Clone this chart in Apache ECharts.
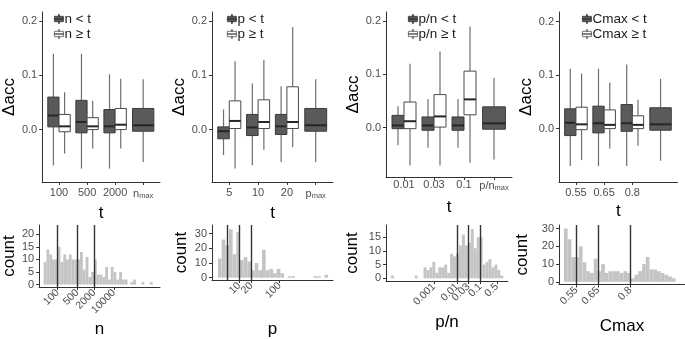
<!DOCTYPE html>
<html><head><meta charset="utf-8">
<script src="https://cdn.jsdelivr.net/npm/echarts@6/dist/echarts.min.js"></script>
<style>html,body{margin:0;padding:0;background:#fff}#c{width:685px;height:339px}</style>
</head><body><div id="c"></div>
<script>
// ---------- Box plot data: [lower whisker, Q1, median, Q3, upper whisker] ----------
const nTicks = ['100', '500', '2000', 'n_max'];
const nBelow = [[-0.066, 0.005, 0.026, 0.060, 0.140], [-0.072, -0.006, 0.014, 0.054, 0.140], [-0.072, -0.006, 0.006, 0.037, 0.102]];
const nAbove = [[-0.044, -0.004, 0.006, 0.028, 0.069], [-0.035, 0.000, 0.006, 0.022, 0.053], [-0.035, 0.000, 0.009, 0.039, 0.094]];

const pTicks = ['5', '10', '20', 'p_max'];
const pBelow = [[-0.047, -0.017, -0.003, 0.005, 0.037], [-0.066, -0.011, 0.004, 0.028, 0.085], [-0.060, -0.009, 0.006, 0.028, 0.080]];
const pAbove = [[-0.072, 0.002, 0.016, 0.053, 0.126], [-0.037, 0.002, 0.014, 0.055, 0.129], [-0.032, 0.002, 0.014, 0.079, 0.189]];

const pnTicks = ['0.01', '0.03', '0.1', 'p/n_max'];
const pnBelow = [[-0.033, -0.002, 0.004, 0.023, 0.040], [-0.038, -0.005, 0.004, 0.020, 0.053], [-0.038, -0.005, 0.004, 0.020, 0.053]];
const pnAbove = [[-0.071, -0.002, 0.012, 0.048, 0.120], [-0.071, 0.001, 0.021, 0.062, 0.143], [-0.066, 0.024, 0.053, 0.106, 0.190]];

const cTicks = ['0.55', '0.65', '0.8', 'Cmax_max'];
const cBelow = [[-0.070, -0.013, 0.011, 0.037, 0.112], [-0.070, -0.008, 0.010, 0.042, 0.112], [-0.070, -0.005, 0.010, 0.045, 0.120]];
const cAbove = [[-0.059, -0.002, 0.008, 0.040, 0.103], [-0.037, 0.000, 0.007, 0.035, 0.086], [-0.032, 0.000, 0.007, 0.024, 0.054]];

const maxBox = [-0.060, -0.003, 0.008, 0.039, 0.093];
const accTicks = [0, 0.1, 0.2];

// ---------- Histograms (log-scaled x: bins given in log10 units) ----------
const nThresholds = [100, 500, 2000];
const nLabelTicks = [100, 500, 2000, 10000];
const nCountTicks = [0, 5, 10, 15, 20];
const nBinLogStart = 1.504, nBinLogWidth = 0.0993;
const nCounts = [9, 14, 12, 10, 10, 15, 9, 12, 10, 12, 10, 10, 10, 13, 6, 11, 3, 5, 10, 4, 4, 3, 7, 2, 7, 5, 2, 5, 2, 2, 0, 1, 2, 0, 0, 1, 0, 0, 1];

const pThresholds = [5, 10, 20];
const pLabelTicks = [5, 10, 20, 100];
const pCountTicks = [0, 10, 20, 30];
const pBinLogStart = 0.474, pBinLogWidth = 0.0911;
const pCounts = [13, 26, 22, 33, 16, 31, 12, 14, 11, 5, 10, 5, 19, 5, 6, 3, 6, 3, 0, 1, 1, 0, 0, 0, 0, 0, 1, 1, 0, 2];

const pnThresholds = [0.01, 0.03, 0.1];
const pnLabelTicks = [0.001, 0.01, 0.03, 0.1, 0.5];
const pnCountTicks = [0, 5, 10, 15];
const pnBinLogStart = -4.833, pnBinLogWidth = 0.1266;
const pnCounts = [1, 0, 0, 0, 0, 0, 0, 0, 1, 0, 0, 4, 3, 4, 6, 2, 4, 4, 5, 2, 9, 8, 9, 12, 16, 12, 13, 18, 11, 15, 15, 5, 6, 7, 4, 5, 3, 1];

const cThresholds = [0.55, 0.65, 0.8];
const cLabelTicks = [0.55, 0.65, 0.8];
const cCountTicks = [0, 10, 20, 30];
const cBinStart = 0.492, cBinWidth = 0.01727;
const cCounts = [30, 24, 14, 14, 20, 11, 6, 5, 13, 6, 10, 5, 6, 6, 6, 5, 6, 5, 2, 4, 6, 10, 14, 7, 7, 6, 5, 4, 3, 2];

// ---------- Styles ----------
const FONT = 'Liberation Sans, Arial, sans-serif';
const TXT = '#4d4d4d', AX = '#333333';
const DARK = { fill: '#5a5a5a', stroke: '#3a3a3a' };
const LIGHT = { fill: '#ffffff', stroke: '#4a4a4a' };
const WHISK = '#6e6e6e', MED = '#262626';
const BAR = '#c4c4c4', VLINE = '#333333';
const BOX_ICON = 'path://M0,2H10V8H0Z M4.5,0H5.5V2H4.5Z M4.5,8H5.5V10H4.5Z M0,4.6H10V5.4H0Z';

const grids = [], xAxes = [], yAxes = [], series = [], legends = [];

function tickFmt(s) {
  const i = s.indexOf('_max');
  return i >= 0 ? '{b|' + s.slice(0, i) + '}{s|max}' : s;
}

function boxRender(kind, sty) {
  return function (params, api) {
    const x = api.value(0);
    const unit = api.size([1, 0])[0];
    const c = api.coord([x, 0])[0];
    let cx, hw;
    if (kind === 'left') { hw = 0.2 * unit; cx = c - hw; }
    else if (kind === 'right') { hw = 0.2 * unit; cx = c + hw; }
    else { hw = 0.38 * unit; cx = c; }
    const y = i => api.coord([x, api.value(i)])[1];
    const lo = y(1), q1 = y(2), md = y(3), q3 = y(4), hi = y(5);
    return {
      type: 'group',
      children: [
        { type: 'line', shape: { x1: cx, y1: hi, x2: cx, y2: q3 }, style: { stroke: WHISK, lineWidth: 1.2 } },
        { type: 'line', shape: { x1: cx, y1: q1, x2: cx, y2: lo }, style: { stroke: WHISK, lineWidth: 1.2 } },
        { type: 'rect', shape: { x: cx - hw, y: q3, width: 2 * hw, height: q1 - q3 }, style: { fill: sty.fill, stroke: sty.stroke, lineWidth: 1 } },
        { type: 'line', shape: { x1: cx - hw, y1: md, x2: cx + hw, y2: md }, style: { stroke: MED, lineWidth: 2 } }
      ]
    };
  };
}

function addBoxPanel(o) {
  const gi = grids.length;
  grids.push({ left: o.left, top: o.top, width: o.w, height: o.h });
  xAxes.push({
    type: 'value', gridIndex: gi, min: 0.4, max: 4.6,
    name: 't', nameLocation: 'middle', nameGap: o.xGap,
    nameTextStyle: { fontSize: 17, color: '#000', fontFamily: FONT },
    axisLine: { onZero: false, lineStyle: { color: AX, width: 1 } },
    axisTick: { customValues: [1, 2, 3, 4], length: 3, lineStyle: { color: AX } },
    axisLabel: {
      customValues: [1, 2, 3, 4], margin: o.labMargin, color: TXT, fontSize: 11, fontFamily: FONT,
      formatter: v => tickFmt(o.ticks[Math.round(v) - 1]),
      rich: { b: { fontSize: 11, color: TXT, fontFamily: FONT }, s: { fontSize: 7.5, color: TXT, fontFamily: FONT, padding: [5, 0, 0, 0] } }
    },
    splitLine: { show: false }
  });
  yAxes.push({
    type: 'value', gridIndex: gi, min: o.ymin, max: o.ymax,
    name: 'Δacc', nameLocation: 'middle', nameGap: o.yGap,
    nameTextStyle: { fontSize: 17, color: '#000', fontFamily: FONT },
    axisLine: { show: true, onZero: false, lineStyle: { color: AX, width: 1 } },
    axisTick: { show: true, customValues: accTicks, length: 3, lineStyle: { color: AX } },
    axisLabel: { customValues: accTicks, formatter: v => v.toFixed(1), margin: 5, color: TXT, fontSize: 11, fontFamily: FONT },
    splitLine: { show: false }
  });
  const enc = { x: 0, y: [1, 2, 3, 4, 5] };
  series.push({
    name: o.names[0], type: 'custom', xAxisIndex: gi, yAxisIndex: gi, encode: enc,
    itemStyle: { color: DARK.fill, borderColor: DARK.stroke, borderWidth: 1 },
    renderItem: boxRender('left', DARK), data: o.below.map((v, k) => [k + 1].concat(v))
  });
  series.push({
    name: o.names[1], type: 'custom', xAxisIndex: gi, yAxisIndex: gi, encode: enc,
    itemStyle: { color: LIGHT.fill, borderColor: LIGHT.stroke, borderWidth: 1 },
    renderItem: boxRender('right', LIGHT), data: o.above.map((v, k) => [k + 1].concat(v))
  });
  series.push({
    name: o.names[0] + ' max', type: 'custom', xAxisIndex: gi, yAxisIndex: gi, encode: enc,
    itemStyle: { color: DARK.fill },
    renderItem: boxRender('center', DARK), data: [[4].concat(maxBox)]
  });
  legends.push({
    orient: 'vertical', left: o.legLeft, top: 7, itemGap: 1, itemWidth: 9, itemHeight: 10,
    selectedMode: false,
    textStyle: { fontSize: 13.5, color: '#1a1a1a', fontFamily: FONT, padding: [0, 0, 0, -4] },
    data: [
      { name: o.names[0], icon: BOX_ICON, itemStyle: { color: DARK.fill, borderColor: DARK.stroke, borderWidth: 0.8 } },
      { name: o.names[1], icon: BOX_ICON, itemStyle: { color: LIGHT.fill, borderColor: '#555555', borderWidth: 0.8 } }
    ]
  });
}

function addHistPanel(o) {
  const gi = grids.length;
  const tx = v => (o.log ? Math.log10(v) : v);
  grids.push({ left: o.left, top: o.top, width: o.w, height: o.h });
  xAxes.push({
    type: 'value', gridIndex: gi, min: o.xmin, max: o.xmax,
    name: o.xName, nameLocation: 'middle', nameGap: o.xGap,
    nameTextStyle: { fontSize: 17, color: '#000', fontFamily: FONT },
    axisLine: { onZero: false, lineStyle: { color: AX, width: 1 } },
    axisTick: { customValues: o.labelTicks.map(tx), length: 3, lineStyle: { color: AX } },
    axisLabel: {
      customValues: o.labelTicks.map(tx), rotate: 45, margin: 4, color: TXT, fontSize: 10.5, fontFamily: FONT,
      formatter: v => String(+(o.log ? Math.pow(10, v) : v).toPrecision(4))
    },
    splitLine: { show: false }
  });
  yAxes.push({
    type: 'value', gridIndex: gi, min: o.ymin, max: o.ymax,
    name: 'count', nameLocation: 'middle', nameGap: o.yGap,
    nameTextStyle: { fontSize: 17, color: '#000', fontFamily: FONT },
    axisLine: { show: true, onZero: false, lineStyle: { color: AX, width: 1 } },
    axisTick: { show: true, customValues: o.countTicks, length: 3, lineStyle: { color: AX } },
    axisLabel: { customValues: o.countTicks, margin: 5, color: TXT, fontSize: 11, fontFamily: FONT },
    splitLine: { show: false }
  });
  const data = o.counts.map((c, k) => [o.binStart + k * o.binWidth, o.binStart + (k + 1) * o.binWidth, c]);
  series.push({
    name: o.xName + ' hist', type: 'custom', xAxisIndex: gi, yAxisIndex: gi,
    encode: { x: [0, 1], y: 2 },
    renderItem: function (params, api) {
      const a = api.coord([api.value(0), api.value(2)]);
      const b = api.coord([api.value(1), 0]);
      return { type: 'rect', shape: { x: a[0], y: a[1], width: b[0] - a[0], height: b[1] - a[1] }, style: { fill: BAR } };
    },
    data: data,
    markLine: {
      silent: true, symbol: ['none', 'none'], animation: false, label: { show: false },
      lineStyle: { color: VLINE, width: 1.4, type: 'solid' },
      data: o.thresholds.map(t => ({ xAxis: tx(t) }))
    }
  });
}

addBoxPanel({ left: 38, top: 12, w: 122, h: 170, ymin: -0.0967, ymax: 0.217, xGap: 17, yGap: 14, labMargin: 5, ticks: nTicks, below: nBelow, above: nAbove, names: ['n < t', 'n ≥ t'], legLeft: 49 });
addBoxPanel({ left: 212, top: 12, w: 121, h: 170, ymin: -0.0967, ymax: 0.217, xGap: 17, yGap: 13, labMargin: 5, ticks: pTicks, below: pBelow, above: pAbove, names: ['p < t', 'p ≥ t'], legLeft: 222 });
addBoxPanel({ left: 386, top: 12, w: 126, h: 165, ymin: -0.0927, ymax: 0.217, xGap: 22, yGap: 22, labMargin: 2, ticks: pnTicks, below: pnBelow, above: pnAbove, names: ['p/n < t', 'p/n ≥ t'], legLeft: 403 });
addBoxPanel({ left: 559, top: 12, w: 126, h: 170, ymin: -0.0998, ymax: 0.218, xGap: 17, yGap: 24, labMargin: 5, ticks: cTicks, below: cBelow, above: cAbove, names: ['Cmax < t', 'Cmax ≥ t'], legLeft: 577 });

addHistPanel({ left: 38, top: 225, w: 122, h: 62, log: true, xmin: 1.342, xmax: 5.637, ymin: -0.96, ymax: 23.7, xName: 'n', xGap: 34, yGap: 17, labelTicks: nLabelTicks, countTicks: nCountTicks, binStart: nBinLogStart, binWidth: nBinLogWidth, counts: nCounts, thresholds: nThresholds });
addHistPanel({ left: 212, top: 225, w: 121, h: 57.5, log: true, xmin: 0.326, xmax: 3.328, ymin: -1.6, ymax: 35.9, xName: 'p', xGap: 41, yGap: 22, labelTicks: pLabelTicks, countTicks: pCountTicks, binStart: pBinLogStart, binWidth: pBinLogWidth, counts: pCounts, thresholds: pThresholds });
addHistPanel({ left: 386, top: 225, w: 122, h: 56, log: true, xmin: -5.047, xmax: 0.180, ymin: -1.0, ymax: 19.5, xName: 'p/n', xGap: 33, yGap: 25, labelTicks: pnLabelTicks, countTicks: pnCountTicks, binStart: pnBinLogStart, binWidth: pnBinLogWidth, counts: pnCounts, thresholds: pnThresholds });
addHistPanel({ left: 559, top: 225, w: 126, h: 59.5, log: false, xmin: 0.469, xmax: 1.054, ymin: -1.5, ymax: 32, xName: 'Cmax', xGap: 33, yGap: 28, labelTicks: cLabelTicks, countTicks: cCountTicks, binStart: cBinStart, binWidth: cBinWidth, counts: cCounts, thresholds: cThresholds });

const chart = echarts.init(document.getElementById('c'));
chart.setOption({
  animation: false,
  backgroundColor: '#ffffff',
  textStyle: { fontFamily: FONT },
  grid: grids, xAxis: xAxes, yAxis: yAxes, series: series, legend: legends
});
</script></body></html>
